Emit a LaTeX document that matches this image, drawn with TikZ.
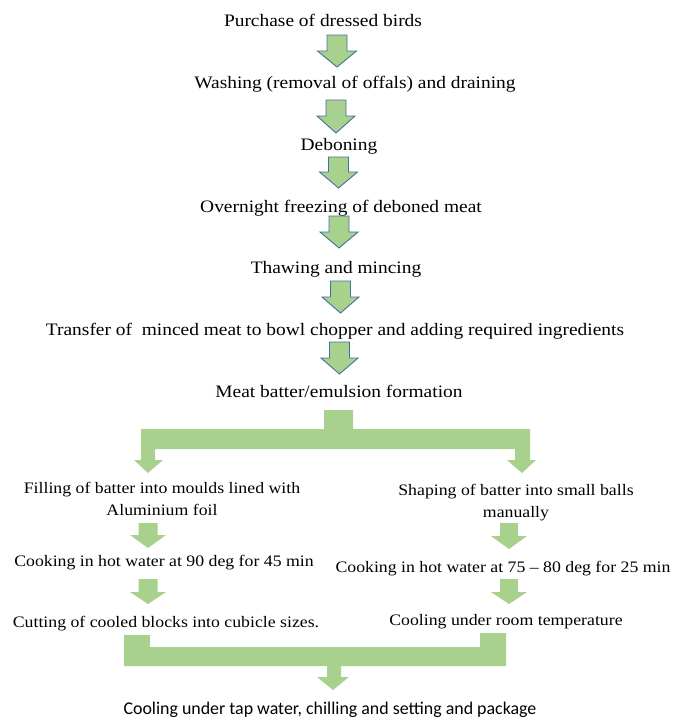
\documentclass[tikz,border=0pt]{standalone}
\usepackage{fontspec}
\setmainfont{Liberation Serif}[FakeStretch=1.11]
\newfontfamily\calibfont{Carlito}
\definecolor{arrgreen}{HTML}{A9D18E}
\definecolor{arrblue}{HTML}{41719C}
\newcommand\mydarrow[7]{%
  \path[#1] ({#2-#4},{#3}) -- ({#2+#4},{#3}) -- ({#2+#4},{#3+#6}) -- ({#2+#5},{#3+#6})
    -- ({#2},{#3+#6+#7}) -- ({#2-#5},{#3+#6}) -- ({#2-#4},{#3+#6}) -- cycle;}
\begin{document}
\begin{tikzpicture}[x=1pt,y=-1pt,
  lbl/.style={anchor=base,inner sep=0pt,align=center,font=\fontsize{17.5}{22}\selectfont},
  sublbl/.style={anchor=base,inner sep=0pt,align=center,font=\fontsize{16}{22}\selectfont},
  lastlbl/.style={anchor=base,inner sep=0pt,font=\calibfont\fontsize{17.9}{20}\selectfont},
  outlinearrow/.style={fill=arrgreen,draw=arrblue,line width=0.9pt,line join=miter},
  flatarrow/.style={fill=arrgreen}]
\useasboundingbox (0,0) rectangle (672,720);
% text nodes
\node[lbl] (t1) at (323,27) {Purchase of dressed birds};
\node[lbl] (t2) at (355,88) {Washing (removal of offals) and draining};
\node[lbl] (t3) at (339,150) {Deboning};
\node[lbl] (t4) at (341,212) {Overnight freezing of deboned meat};
\node[lbl] (t5) at (336,273) {Thawing and mincing};
\node[lbl] (t6) at (335,335) {Transfer of \ minced meat to bowl chopper and adding required ingredients};
\node[lbl] (t7) at (339,397) {Meat batter/emulsion formation};
\node[sublbl] (l1) at (162,515) {Filling of batter into moulds lined with\\Aluminium foil};
\node[sublbl] (r1) at (516,517) {Shaping of batter into small balls\\manually};
\node[sublbl] (l2) at (164,566) {Cooking in hot water at 90 deg for 45 min};
\node[sublbl] (r2) at (503,572) {Cooking in hot water at 75 -- 80 deg for 25 min};
\node[sublbl] (l3) at (166,627) {Cutting of cooled blocks into cubicle sizes.};
\node[sublbl] (r3) at (506,625) {Cooling under room temperature};
\node[lastlbl] (t8) at (330,714) {Cooling under tap water, chilling and setting and package};
% outlined arrows
\mydarrow{outlinearrow}{337}{35}{10}{19.5}{16}{16}
\mydarrow{outlinearrow}{336}{100}{10}{19}{16}{17}
\mydarrow{outlinearrow}{338.5}{157}{10}{19}{15}{16}
\mydarrow{outlinearrow}{339}{216}{10}{19}{16}{16}
\mydarrow{outlinearrow}{340.5}{281}{10}{18.5}{16}{16}
\mydarrow{outlinearrow}{339.5}{342}{10}{18.5}{16}{16}
% branch
\path[flatarrow] (324,410) -- (353,410) -- (353,429) -- (530,429) -- (530,460) -- (536,460)
  -- (522,473) -- (507,460) -- (515,460) -- (515,449) -- (155,449) -- (155,460) -- (163,460)
  -- (148,473) -- (134,460) -- (141,460) -- (141,429) -- (324,429) -- cycle;
% flat arrows
\mydarrow{flatarrow}{148}{523}{9.5}{18}{12}{13}
\mydarrow{flatarrow}{509}{523}{9}{18}{13}{13}
\mydarrow{flatarrow}{148}{579}{9.5}{18}{13}{12}
\mydarrow{flatarrow}{509}{579}{9}{18}{13}{12}
% merge
\path[flatarrow] (124,635) -- (150,635) -- (150,647) -- (480,647) -- (480,633) -- (506,633)
  -- (506,666) -- (341,666) -- (341,677) -- (349,677) -- (333,690) -- (317,677) -- (327,677)
  -- (327,666) -- (124,666) -- cycle;
\end{tikzpicture}
\end{document}
